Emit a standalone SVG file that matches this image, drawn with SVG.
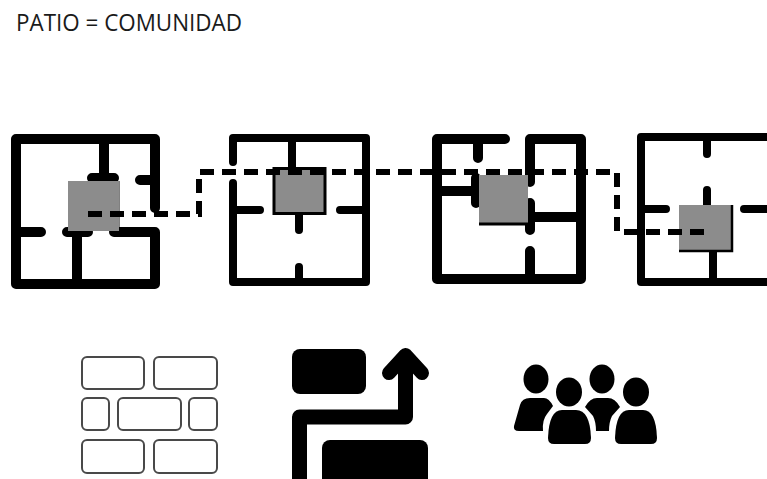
<svg xmlns="http://www.w3.org/2000/svg" width="767" height="479" viewBox="0 0 767 479">
<defs><filter id="soft" x="-5%" y="-5%" width="110%" height="110%"><feGaussianBlur stdDeviation="0.5"/></filter></defs>
<style>
.w10{fill:none;stroke:#000;stroke-width:10;stroke-linecap:round;stroke-linejoin:round}
.w8{fill:none;stroke:#000;stroke-width:8;stroke-linecap:round;stroke-linejoin:round}
.patio{fill:#8c8c8c}
.brick{fill:#fff;stroke:#4a4a4a;stroke-width:2}
.title{font-family:"Open Sans","Liberation Sans",sans-serif;font-size:23px;fill:#1a1a1a}
.soft{filter:url(#soft)}
</style>
<rect width="767" height="479" fill="#fff"/>
<text class="title" x="16" y="31" textLength="226" lengthAdjust="spacingAndGlyphs">PATIO = COMUNIDAD</text>
<g id="plan1" class="soft">
<path class="w10" d="M155,208V139H16V284H155V232H114M16,232H41M67,232H88M77,232V284M104,139V178M92,178H114M140,180H155"/>
<path d="M118,181V231" stroke="#000" stroke-width="3"/>
<rect class="patio" x="68" y="181" width="51" height="50"/>
</g>
<g id="plan2" class="soft">
<path class="w8" d="M233,162V138H366V282H233V183M292,138V168M233,210H260M340,210H366M299,214V230M299,267V282"/>
<rect class="patio" x="274" y="168.500" width="51" height="45" stroke="#000" stroke-width="3"/>
</g>
<g id="plan3" class="soft">
<path class="w10" d="M505,139H437V279H581V139H530V182M478,139V158M437,191H476M476,178V203M530,203V230M530,251V279M530,217H581"/>
<rect class="patio" x="479" y="175" width="49" height="48"/>
<path d="M479,224H528" stroke="#000" stroke-width="3"/>
</g>
<g id="plan4" class="soft">
<path class="w8" d="M775,137H641V282H775M707,137V154M707,190V205M641,209H666M744,209H775M713,250V282"/>
<rect class="patio" x="679" y="205" width="52" height="45"/>
<path d="M732,205V251H679" fill="none" stroke="#000" stroke-width="2.500"/>
</g>
<g id="connectors" class="soft">
<path d="M88,214H199V172H617V232H707" fill="none" stroke="#000" stroke-width="6" stroke-dasharray="14 8"/>
</g>
<g id="icon-wall" class="soft">
<rect class="brick" x="82" y="357" width="62" height="32" rx="5"/>
<rect class="brick" x="154" y="357" width="63" height="32" rx="5"/>
<rect class="brick" x="82" y="398" width="27" height="32" rx="5"/>
<rect class="brick" x="118" y="398" width="63" height="32" rx="5"/>
<rect class="brick" x="189" y="398" width="28" height="32" rx="5"/>
<rect class="brick" x="82" y="440" width="62" height="33" rx="5"/>
<rect class="brick" x="154" y="440" width="63" height="33" rx="5"/>
</g>
<g id="icon-path" class="soft">
<rect x="292" y="349" width="74" height="45" rx="8"/>
<rect x="322" y="440" width="106" height="50" rx="8"/>
<path d="M299.500,490V417H405.500V356" fill="none" stroke="#000" stroke-width="15" stroke-linejoin="round"/>
<path d="M389,373L405.500,355L422,373" fill="none" stroke="#000" stroke-width="14" stroke-linecap="round" stroke-linejoin="round"/>
</g>
<g id="icon-people" class="soft">
<ellipse cx="536" cy="379" rx="12.500" ry="14.500"/>
<ellipse cx="602" cy="379" rx="12.500" ry="14.500"/>
<path d="M514,426L520,405Q522,398 530,398L544,398Q549,398 553,406L547,414Q542,420 543,431L519,431Q513,431 514,426Z"/>
<path d="M585,407Q590,398 597,398L608,398Q615,398 620,407L612,416Q609,422 609,431L596,431Q596,422 593,416Z"/>
<ellipse cx="569" cy="392" rx="13" ry="14.500"/>
<ellipse cx="636" cy="392" rx="13" ry="14.500"/>
<path d="M548,438Q549,410 562,410L576,410Q590,410 591,438Q591,444 585,444L554,444Q548,444 548,438Z"/>
<path d="M615,438Q616,410 629,410L643,410Q656,410 657,438Q657,444 651,444L621,444Q615,444 615,438Z"/>
</g>
</svg>
